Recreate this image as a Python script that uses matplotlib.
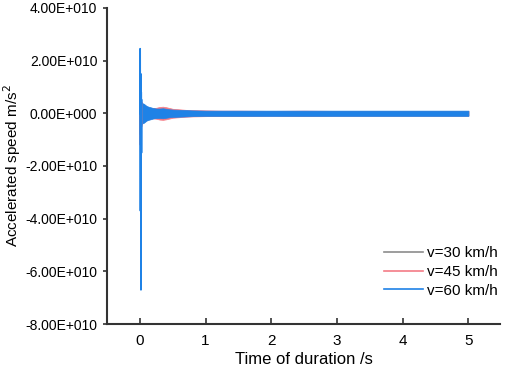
import numpy as np
import matplotlib
matplotlib.use("Agg")
import matplotlib.pyplot as plt
from matplotlib.ticker import FuncFormatter

plt.rcParams['font.family'] = ['Liberation Sans', 'DejaVu Sans']
plt.rcParams['axes.unicode_minus'] = False

# envelope of the noise band (half-amplitude, m/s^2)
t_band = [0.02, 0.04, 0.06, 0.08, 0.10, 0.13, 0.16, 0.20, 0.25, 0.30, 0.35, 0.40,
          0.45, 0.50, 0.60, 0.70, 0.80, 1.00, 1.25, 1.50, 2.00, 2.50, 3.00, 3.50,
          4.00, 4.50, 5.00]
amp_30 = [0.36e10, 0.32e10, 0.30e10, 0.26e10, 0.22e10, 0.18e10, 0.16e10, 0.14e10,
          0.15e10, 0.16e10, 0.17e10, 0.16e10, 0.14e10, 0.12e10, 0.11e10, 0.10e10,
          0.09e10, 0.08e10, 0.08e10, 0.08e10, 0.08e10, 0.08e10, 0.08e10, 0.08e10,
          0.08e10, 0.08e10, 0.08e10]
amp_45 = [0.40e10, 0.36e10, 0.33e10, 0.30e10, 0.26e10, 0.22e10, 0.20e10, 0.19e10,
          0.21e10, 0.24e10, 0.25e10, 0.23e10, 0.20e10, 0.17e10, 0.15e10, 0.13e10,
          0.12e10, 0.11e10, 0.10e10, 0.10e10, 0.09e10, 0.10e10, 0.09e10, 0.09e10,
          0.09e10, 0.09e10, 0.09e10]
amp_60 = [0.42e10, 0.38e10, 0.36e10, 0.32e10, 0.28e10, 0.25e10, 0.23e10, 0.20e10,
          0.18e10, 0.18e10, 0.19e10, 0.17e10, 0.15e10, 0.14e10, 0.13e10, 0.12e10,
          0.11e10, 0.10e10, 0.10e10, 0.10e10, 0.10e10, 0.10e10, 0.10e10, 0.10e10,
          0.10e10, 0.10e10, 0.10e10]

# initial impact spikes
t_spike = [0.000, 0.004, 0.008, 0.012, 0.016, 0.020, 0.024, 0.028]
spike_30 = [0, 0.6e10, -0.8e10, 0.5e10, -0.6e10, 0.4e10, -0.4e10, 0.3e10]
spike_45 = [0, 1.0e10, -1.2e10, 0.8e10, -0.9e10, 0.5e10, -0.5e10, 0.4e10]
spike_60 = [0, 2.45e10, -3.7e10, 1.5e10, -6.7e10, 0.8e10, -1.5e10, 0.5e10]

series = [
    ("v=30 km/h", "#8c8c8c", amp_30, spike_30),
    ("v=45 km/h", "#f47c86", amp_45, spike_45),
    ("v=60 km/h", "#1f82e6", amp_60, spike_60),
]


def sci(v, pos):
    if v == 0:
        return "0.00E+000"
    e = int(np.floor(np.log10(abs(v))))
    m = v / 10 ** e
    return f"{m:.2f}E+{e:03d}"


fig = plt.figure(figsize=(5.05, 3.73), dpi=100)
ax = fig.add_axes([0.212, 0.131, 0.778, 0.848])

for label, color, amp, spike in series:
    amp = np.array(amp)
    ax.fill_between(t_band, -amp, amp, color=color, lw=0.5, edgecolor=color)
    ax.plot(t_spike, spike, color=color, lw=1.2)
    ax.plot([], [], color=color, lw=1.2, label=label)

ax.set_xlim(-0.5, 5.48)
ax.set_ylim(-8e10, 4e10)
ax.set_xticks([0, 1, 2, 3, 4, 5])
ax.set_yticks(np.arange(-8e10, 4.1e10, 2e10))
ax.yaxis.set_major_formatter(FuncFormatter(sci))

for s in ["top", "right"]:
    ax.spines[s].set_visible(False)
for s in ["left", "bottom"]:
    ax.spines[s].set_color("#333333")
    ax.spines[s].set_linewidth(1.5)
ax.tick_params(axis="x", direction="in", length=4, width=1.2, color="#333333",
               labelsize=11, pad=7)
ax.tick_params(axis="y", direction="out", length=3, width=1.2, color="#333333",
               labelsize=10, pad=4)

ax.set_xlabel("Time of duration /s", fontsize=12, labelpad=3)
ax.set_ylabel("Accelerated speed m/s$^2$", fontsize=11)
ax.yaxis.set_label_coords(-0.215, 0.5)

ax.legend(loc="center right", bbox_to_anchor=(0.995, 0.165), frameon=False,
          fontsize=11, handlelength=2.5, handletextpad=0.3, labelspacing=0.3,
          borderpad=0, borderaxespad=0)

fig.savefig("out.png", dpi=100)
